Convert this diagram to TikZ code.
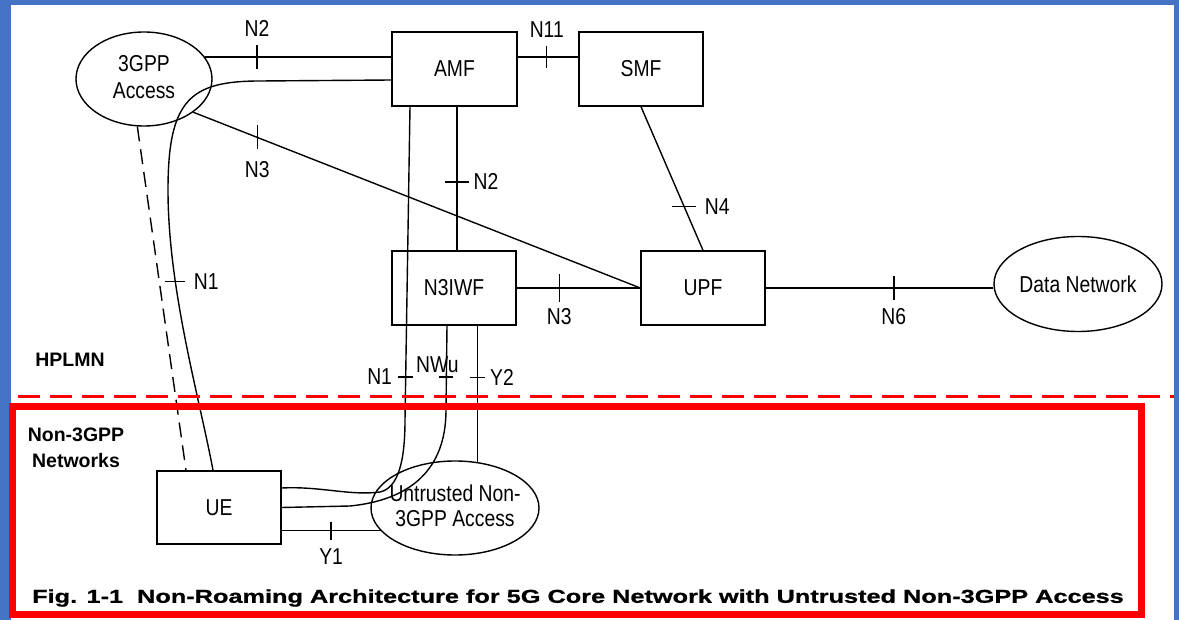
\documentclass[tikz,border=0pt]{standalone}
\usepackage{fontspec}
\setmainfont{Liberation Sans}
\newfontfamily\etiqfont[FakeStretch=0.84]{Liberation Sans}
\newfontfamily\legendefont[FakeStretch=1.36,BoldFeatures={FakeBold=1}]{Liberation Sans}
\usetikzlibrary{shapes.geometric}
\usetikzlibrary{positioning}
\usetikzlibrary{calc}
\definecolor{Bleu}{HTML}{4472C4}
\definecolor{Rouge}{HTML}{FF0000}

\tikzset{
  lien/.style={line width=1.4pt},
  nf/.style={draw, line width=1.4pt, minimum width=124pt, minimum height=74pt, inner sep=0pt, font=\etiqfont\fontsize{23}{25}\selectfont},
  acces/.style={draw, ellipse, line width=1.4pt, inner sep=0pt},
  etiq/.style={inner sep=0pt, font=\etiqfont\fontsize{23}{25}\selectfont},
  titre/.style={inner sep=0pt, font=\bfseries\fontsize{19.5}{26}\selectfont},
  traitv/.pic={\draw[lien] (0,-#1) -- (0,#1);},
  traith/.pic={\draw[lien] (-#1,0) -- (#1,0);}
}

\begin{document}
\begin{tikzpicture}[x=1pt,y=-1pt]
\useasboundingbox (0,0) rectangle (1179,620);
% Cadre
\fill[Bleu] (0,0) rectangle (1179,620);
\fill[white] (11,5) rectangle (1174,620);

% Fonctions du coeur de réseau
\node[nf, minimum width=125pt] (amf) at (454.5,69) {AMF};
\node[nf] (smf) at (641,69) {SMF};
\node[nf] (n3iwf) at (454,288) {N3IWF};
\node[nf] (upf) at (703,288) {UPF};
\node[nf, minimum height=73pt] (ue) at (219,507.5) {UE};

% Accès et réseau de données
\node[acces, minimum width=136pt, minimum height=94pt] (acc3gpp) at (144,79) {};
\node[etiq, align=center, font=\etiqfont\fontsize{23}{27}\selectfont] (txt3gpp) at ([yshift=2pt]acc3gpp) {3GPP\\Access};
\node[acces, minimum width=168pt, minimum height=95pt] (dn) at (1078,284) {};
\node[etiq] (txtdn) at (dn) {Data Network};
\node[acces, minimum width=168pt, minimum height=94pt] (untr) at (455,508) {};
\node[etiq, align=center] (txtuntr) at ([yshift=2pt]untr) {Untrusted Non-\\3GPP Access};

% Interfaces
\coordinate (n11a) at ([yshift=12pt]amf.east);
\coordinate (n2b) at ([xshift=2.5pt]amf.south);
\coordinate (n1b) at ([xshift=-44.5pt]amf.south);

\draw[lien] (acc3gpp.20) -- (acc3gpp.20 -| amf.west)
  pic[pos=0.28]{traitv=12} node[etiq, pos=0.28, above=20pt] (lbn2a) {N2};
\draw[lien] (n11a) -- (n11a -| smf.west)
  pic[pos=0.48]{traitv=11} node[etiq, pos=0.48, above=19pt] (lbn11) {N11};
\draw[lien] (acc3gpp.-34) -- (upf.west)
  pic[pos=0.143]{traitv=12} node[etiq, pos=0.143, below=23pt] (lbn3a) {N3};
\draw[lien] (n2b) -- (n2b |- n3iwf.north)
  pic[pos=0.524]{traith=12} node[etiq, pos=0.524, right=16pt] (lbn2b) {N2};
\draw[lien] (smf.south) -- (upf.north)
  pic[pos=0.697]{traith=12} node[etiq, pos=0.697, right=20pt] (lbn4) {N4};
\draw[lien] (n3iwf.east) -- (upf.west)
  pic[pos=0.344]{traitv=14} node[etiq, pos=0.344, below=20pt] (lbn3b) {N3};
\draw[lien] (upf.east) -- (upf.east -| dn.west)
  pic[pos=0.563]{traitv=12} node[etiq, pos=0.563, below=20pt] (lbn6) {N6};

% N1 par l'accès 3GPP
\draw[lien] ([yshift=-11pt]amf.west) -- (260,81) .. controls (190,81) and (168,100) .. (168,190)
  .. controls (168,290) and (200,400) .. ([xshift=-6pt]ue.north)
  pic[pos=0.3]{traith=10} node[etiq, pos=0.3, right=18pt] (lbn1a) {N1};
\draw[lien, dash pattern=on 15pt off 8pt] (acc3gpp.-98) -- ([xshift=-33pt]ue.north);

% N1 et NWu par N3IWF
\draw[lien] (n1b) -- (405,420)
  pic[pos=0.863]{traith=7.5} node[etiq, pos=0.863, left=13pt] (lbn1b) {N1}
  .. controls (405,462) and (398,488) .. (380,492) .. controls (350,496) and (320,486) .. ([yshift=19.5pt]ue.east);
\draw[lien] ([xshift=-7pt]n3iwf.south) -- (446,410)
  pic[pos=0.61]{traith=7} node[etiq, pos=0.61, above=4pt, xshift=-9pt] (lbnwu) {NWu}
  .. controls (446,470) and (410,500) .. (350,506) -- (ue.east);
\draw[lien] (untr.64 |- n3iwf.south) -- (untr.64)
  pic[pos=0.378]{traith=7.5} node[etiq, pos=0.378, right=12pt] (lby2) {Y2};
\draw[lien] (untr.197 -| ue.east) -- (untr.197)
  pic[pos=0.5]{traitv=9} node[etiq, pos=0.5, below=17pt] (lby1) {Y1};

% Domaines
\node[titre] (hplmn) at (70,360) {HPLMN};
\node[titre, align=center] (non3gpp) at (76,448) {Non-3GPP\\Networks};
\draw[Rouge, line width=3pt, dash pattern=on 22pt off 10pt] (18,397) -- (1174,397);
\draw[Rouge, line width=7pt] (12.5,406.5) rectangle (1141,614.5);

% Légende
\node[anchor=west, inner sep=0pt, font=\legendefont\bfseries\fontsize{18.6}{22}\selectfont] (legende) at (32,598)
  {Fig. 1-1\ \ Non-Roaming Architecture for 5G Core Network with Untrusted Non-3GPP Access};
\end{tikzpicture}
\end{document}
